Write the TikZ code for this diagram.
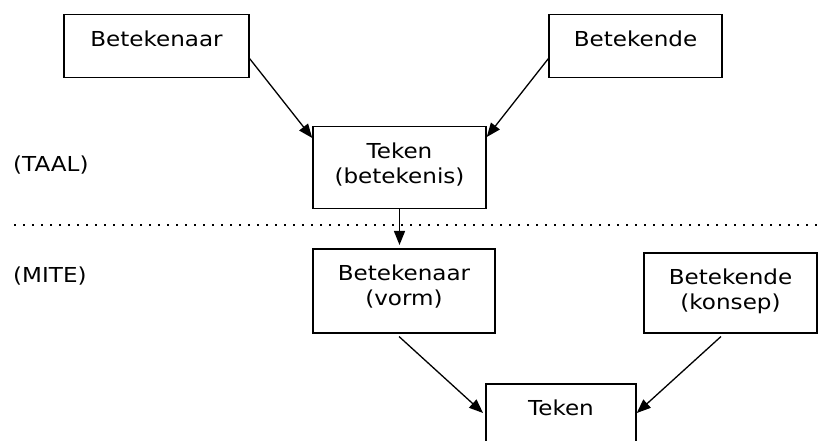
\documentclass[tikz,border=0pt]{standalone}
\usepackage{fontspec}
\setmainfont{DejaVu Sans}[FakeStretch=1.12]
\usetikzlibrary{arrows.meta}

\begin{document}
\begin{tikzpicture}[
  x=1pt,
  y=-1pt,
  kassie/.style={draw, line width=1.5pt, anchor=north, align=center, inner xsep=0pt, inner ysep=0pt, font=\fontsize{20.6}{25}\selectfont},
  een/.style={kassie, text height=32pt},
  twee/.style={kassie, text height=57pt},
  vlak/.style={anchor=base west, inner sep=0pt, font=\fontsize{20.6}{25}\selectfont},
  pyl/.style={line width=1.3pt, -{Triangle[length=14pt, width=11pt]}}
  ]
    \useasboundingbox (0,0) rectangle (820,441);

    % TAAL
    \node[een, minimum width=185pt, text depth=31pt] (naar1) at (156.5,14) {Betekenaar};
    \node[een, minimum width=173pt, text depth=31pt] (ende1) at (635.5,14) {Betekende};
    \node[twee, minimum width=173pt, text depth=25pt] (teken1) at (399.5,126) {Teken\\(betekenis)};
    \node[vlak] (taal) at (13,172) {(TAAL)};

% skeidslyn
\draw[line width=2pt, dash pattern=on 2pt off 7pt] (14,225) -- (820,225);

    % MITE
    \node[twee, minimum width=182pt, text depth=27pt] (naar2) at (404,248) {Betekenaar\\(vorm)};
    \node[twee, minimum width=173pt, text depth=23pt] (ende2) at (730.5,252) {Betekende\\(konsep)};
    \node[een, minimum width=150pt, text depth=30pt] (teken2) at (561,383) {Teken};
    \node[vlak] (mite) at (13,282) {(MITE)};

%pyle
\draw[pyl] ([yshift=-12.5pt]naar1.east) -- ([yshift=-12pt]teken1.north west);
\draw[pyl] ([yshift=-12.5pt]ende1.west) -- ([yshift=-11pt]teken1.north east);
\draw[pyl, shorten >=3pt] (teken1.south) -- (teken1.south |- naar2.north);
\draw[pyl, shorten >=3pt] ([xshift=-5pt, yshift=-3pt]naar2.south) -- ([yshift=-32pt]teken2.north west);
\draw[pyl] ([xshift=-9.5pt, yshift=-3pt]ende2.south) -- ([yshift=-30pt]teken2.north east);

\end{tikzpicture}
\end{document}
